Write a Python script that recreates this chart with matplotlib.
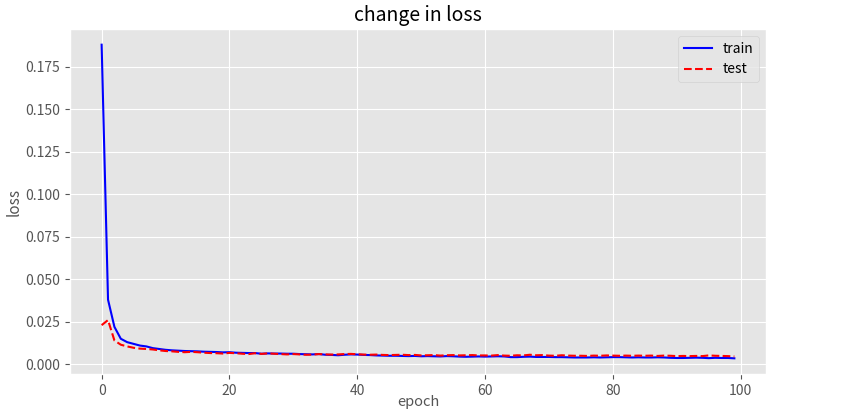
import matplotlib
matplotlib.use("Agg")
import matplotlib.pyplot as plt

plt.style.use("ggplot")
plt.rcParams['font.family'] = ['Noto Sans CJK SC', 'DejaVu Sans']
plt.rcParams['axes.unicode_minus'] = False

# loss per epoch
train_loss = [
    0.1880, 0.0380, 0.0220, 0.0150, 0.0130, 0.0120, 0.0110, 0.0105, 0.0095, 0.0090,
    0.0085, 0.0082, 0.0080, 0.0078, 0.0077, 0.0076, 0.0074, 0.0073, 0.0072, 0.0070,
    0.0071, 0.0068, 0.0067, 0.0066, 0.0066, 0.0062, 0.0064, 0.0063, 0.0063, 0.0062,
    0.0062, 0.0060, 0.0059, 0.0058, 0.0060, 0.0056, 0.0055, 0.0053, 0.0056, 0.0058,
    0.0057, 0.0055, 0.0054, 0.0052, 0.0051, 0.0050, 0.0050, 0.0049, 0.0048, 0.0049,
    0.0047, 0.0048, 0.0047, 0.0046, 0.0048, 0.0047, 0.0045, 0.0044, 0.0045, 0.0046,
    0.0045, 0.0046, 0.0047, 0.0046, 0.0042, 0.0042, 0.0044, 0.0045, 0.0043, 0.0043,
    0.0043, 0.0042, 0.0042, 0.0041, 0.0040, 0.0040, 0.0040, 0.0041, 0.0040, 0.0041,
    0.0042, 0.0042, 0.0041, 0.0040, 0.0041, 0.0040, 0.0040, 0.0041, 0.0040, 0.0038,
    0.0037, 0.0037, 0.0038, 0.0039, 0.0038, 0.0036, 0.0038, 0.0037, 0.0037, 0.0035,
]
test_loss = [
    0.0230, 0.0260, 0.0140, 0.0115, 0.0105, 0.0097, 0.0092, 0.0090, 0.0087, 0.0082,
    0.0078, 0.0076, 0.0073, 0.0071, 0.0073, 0.0071, 0.0068, 0.0066, 0.0065, 0.0063,
    0.0067, 0.0065, 0.0062, 0.0060, 0.0065, 0.0061, 0.0064, 0.0062, 0.0060, 0.0058,
    0.0060, 0.0058, 0.0056, 0.0057, 0.0060, 0.0058, 0.0057, 0.0058, 0.0060, 0.0061,
    0.0059, 0.0057, 0.0056, 0.0057, 0.0055, 0.0054, 0.0055, 0.0056, 0.0054, 0.0055,
    0.0052, 0.0053, 0.0054, 0.0051, 0.0053, 0.0054, 0.0052, 0.0053, 0.0054, 0.0052,
    0.0052, 0.0051, 0.0054, 0.0051, 0.0050, 0.0053, 0.0052, 0.0056, 0.0053, 0.0054,
    0.0051, 0.0050, 0.0053, 0.0051, 0.0050, 0.0050, 0.0049, 0.0051, 0.0050, 0.0052,
    0.0051, 0.0050, 0.0051, 0.0050, 0.0051, 0.0050, 0.0051, 0.0049, 0.0051, 0.0050,
    0.0048, 0.0049, 0.0048, 0.0049, 0.0048, 0.0052, 0.0050, 0.0049, 0.0048, 0.0046,
]
epochs = list(range(len(train_loss)))

fig = plt.figure(figsize=(8.59, 4.12), dpi=100)
ax = fig.add_axes([70 / 859, 38 / 412, 696 / 859, 345 / 412])

ax.plot(epochs, train_loss, color='b', linestyle='-', linewidth=1.5, label='train')
ax.plot(epochs, test_loss, color='r', linestyle='--', linewidth=1.5, label='test')

ax.set_title('change in loss', fontsize=14, color='black')
ax.set_xlabel('epoch', fontsize=10.5, labelpad=-2)
ax.set_ylabel('loss', fontsize=11, labelpad=2)
ax.tick_params(labelsize=10)
ax.legend(loc='upper right', fontsize=10)

fig.savefig('out.png', dpi=100)
